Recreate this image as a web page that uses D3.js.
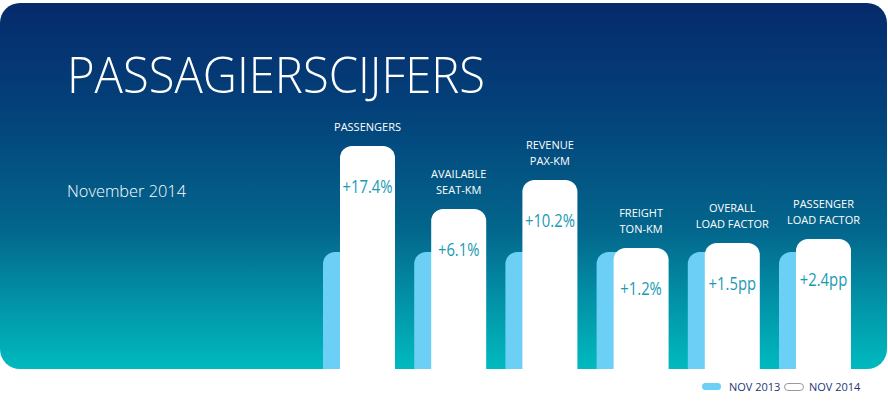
<!DOCTYPE html>
<html>
<head>
<meta charset="utf-8">
<script src="https://cdn.jsdelivr.net/npm/d3@7"></script>
<style>
  html, body { margin: 0; padding: 0; background: #ffffff; }
  svg { display: block; }
</style>
</head>
<body>
<svg id="chart" width="888" height="401"></svg>
<script>
// ---- data ----
const categories = ["PASSENGERS", "AVAILABLE\nSEAT-KM", "REVENUE\nPAX-KM", "FREIGHT\nTON-KM", "OVERALL\nLOAD FACTOR", "PASSENGER\nLOAD FACTOR"];
const nov2013 = [100, 100, 100, 100, 100, 100];
const nov2014 = [190.6, 136.8, 161.5, 103.4, 107.7, 111.1];
const changeLabels = ["+17.4%", "+6.1%", "+10.2%", "+1.2%", "+1.5pp", "+2.4pp"];
const seriesNames = ["NOV 2013", "NOV 2014"];
const title = "PASSAGIERSCIJFERS";
const subtitle = "November 2014";

const W = 888, H = 401;
const svg = d3.select("#chart");
const defs = svg.append("defs");
const grad = defs.append("linearGradient").attr("id", "bg").attr("x1", 0).attr("y1", 0).attr("x2", 0).attr("y2", 1);
[["0%", "#062a6b"], ["30%", "#03427a"], ["62%", "#03668c"], ["80%", "#028fa5"], ["100%", "#00babf"]]
  .forEach(([o, c]) => grad.append("stop").attr("offset", o).attr("stop-color", c));

const panelTop = 3, panelBottom = 369, panelR = 20;
svg.append("rect").attr("x", 0).attr("y", panelTop).attr("width", 887).attr("height", panelBottom - panelTop)
  .attr("rx", panelR).attr("ry", panelR).attr("fill", "url(#bg)");

// title
svg.append("text").attr("x", 67).attr("y", 93).text(title)
  .attr("font-family", "'Open Sans', sans-serif").attr("font-weight", 300)
  .attr("font-size", 49).attr("fill", "#ffffff")
  .attr("textLength", 418).attr("lengthAdjust", "spacingAndGlyphs");
svg.append("text").attr("x", 67).attr("y", 197).text(subtitle)
  .attr("font-family", "'Open Sans', sans-serif").attr("font-weight", 300)
  .attr("font-size", 16.5).attr("fill", "#ffffff")
  .attr("textLength", 119).attr("lengthAdjust", "spacingAndGlyphs");

// scales
const x = d3.scaleBand().domain(categories).range([323, 323 + 6 * 91.2]).padding(0);
const y = d3.scaleLinear().domain([0, 100]).range([panelBottom, 252]);
const barW = 55, offset = 17, r = 12;

function topRounded(x0, y0, w, h, rad) {
  const rr = Math.min(rad, w / 2, h);
  const p = d3.path();
  p.moveTo(x0, y0 + h);
  p.lineTo(x0, y0 + rr);
  p.arcTo(x0, y0, x0 + rr, y0, rr);
  p.lineTo(x0 + w - rr, y0);
  p.arcTo(x0 + w, y0, x0 + w, y0 + rr, rr);
  p.lineTo(x0 + w, y0 + h);
  p.closePath();
  return p.toString();
}

const g = svg.append("g");
g.selectAll("path.b13").data(categories).join("path").attr("class", "b13")
  .attr("d", (c, i) => topRounded(x(c), y(nov2013[i]), barW, y(0) - y(nov2013[i]), r))
  .attr("fill", "#6ccff6");
g.selectAll("path.b14").data(categories).join("path").attr("class", "b14")
  .attr("d", (c, i) => topRounded(x(c) + offset, y(nov2014[i]), barW, y(0) - y(nov2014[i]), r))
  .attr("fill", "#ffffff");

// change labels inside white bars (condensed look)
g.selectAll("text.chg").data(categories).join("text").attr("class", "chg")
  .attr("transform", (c, i) => `translate(${x(c) + offset + barW / 2},${y(nov2014[i]) + 47}) scale(0.8,1)`)
  .attr("text-anchor", "middle")
  .attr("font-family", "'Open Sans', sans-serif").attr("font-weight", 400)
  .attr("font-size", 18.5).attr("fill", "#1a9ab2")
  .text((c, i) => changeLabels[i]);

// category labels above
categories.forEach((c, i) => {
  const lines = c.split("\n");
  const t = g.append("text")
    .attr("x", x(c) + offset + barW / 2)
    .attr("text-anchor", "middle")
    .attr("font-family", "'Open Sans', sans-serif").attr("font-weight", 400)
    .attr("font-size", 11).attr("fill", "#ffffff");
  const base = y(nov2014[i]) - 15;
  lines.forEach((ln, j) => {
    t.append("tspan").attr("x", x(c) + offset + barW / 2)
      .attr("y", base - (lines.length - 1 - j) * 16).text(ln);
  });
});

// legend
const leg = svg.append("g");
leg.append("rect").attr("x", 702).attr("y", 383).attr("width", 19).attr("height", 7).attr("rx", 3.5)
  .attr("fill", "#6ccff6");
leg.append("text").attr("x", 729).attr("y", 391).text(seriesNames[0])
  .attr("font-family", "'Open Sans', sans-serif").attr("font-size", 11).attr("fill", "#1c3676");
leg.append("rect").attr("x", 784.5).attr("y", 383.5).attr("width", 19).attr("height", 7).attr("rx", 3.5)
  .attr("fill", "#ffffff").attr("stroke", "#9a9a9a").attr("stroke-width", 1);
leg.append("text").attr("x", 809).attr("y", 391).text(seriesNames[1])
  .attr("font-family", "'Open Sans', sans-serif").attr("font-size", 11).attr("fill", "#1c3676");
</script>
</body>
</html>
